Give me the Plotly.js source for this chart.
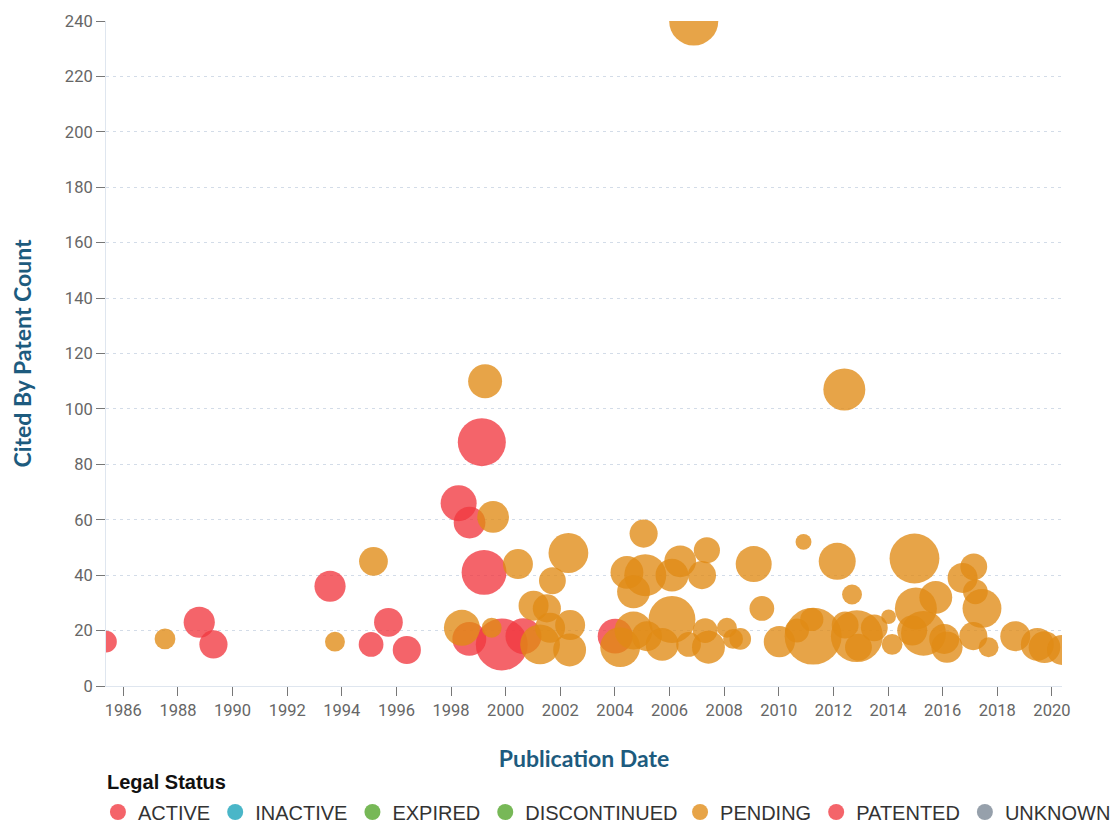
<!DOCTYPE html>
<html><head><meta charset="utf-8">
<script src="https://cdn.plot.ly/plotly-3.0.1.min.js"></script>
<style>html,body{margin:0;padding:0;background:#fff}</style>
</head><body><div id="chart" style="width:1113px;height:823px"></div>
<script>
const statuses = ['ACTIVE','INACTIVE','EXPIRED','DISCONTINUED','PENDING','PATENTED','UNKNOWN'];
const statusColors = ['#f13940','#17a2b8','#51a428','#51a428','#e08b15','#f13940','#798593'];

const activeDates = ['1985-05-14','1988-10-12','1989-04-20','1993-07-27','1995-01-27','1995-09-16','1996-05-19','1998-04-12','1998-09-05','1999-02-16','1999-03-18','1998-09-02','1999-11-10','2000-08-26','2004-01-05'];
const activeCitedBy = [16,23,15,36,15,23,13,66,59,88,41,17,15,18,18];
const activeFamilySize = [13,27,22,27,17,23,22,36,28,64,56,32,75,36,34];

const pendingDates = ['1987-07-12','1993-10-01','1995-02-28','1998-05-26','1999-04-01','1999-07-17','1999-06-28','2000-06-13','2002-04-19','2001-09-17','2001-01-08','2001-07-05','2002-05-12','2001-04-05','2001-08-17','2002-05-05','2004-03-11','2004-09-06','2005-03-04','2005-09-24','2006-02-02','2006-09-12','2007-04-22','2007-06-05','2008-02-07','2008-04-29','2008-08-03','2005-01-19','2004-06-10','2005-02-10','2004-09-06','2006-02-02','2006-05-23','2007-03-10','2007-05-15','2009-01-30','2009-05-19','2010-01-08','2010-11-27','2010-09-01','2011-04-05','2011-03-18','2012-02-21','2012-05-26','2012-09-06','2012-11-10','2012-06-06','2012-12-01','2013-07-01','2014-01-08','2014-02-24','2014-12-20','2015-01-08','2015-10-01','2014-11-20','2015-04-20','2016-02-28','2016-01-22','2016-09-24','2017-02-20','2017-03-14','2017-06-10','2017-02-14','2017-09-06','2018-08-29','2019-06-20','2019-09-24','2020-05-15','2006-11-20'];
const pendingCitedBy = [17,16,45,21,110,61,21,44,48,38,29,28,22,15,21,13,14,20,18,15,24,15,20,14,21,17,17,55,41,40,34,40,45,40,49,44,28,16,52,20,18,24,45,107,33,18,22,14,21,25,15,46,28,32,20,19,14,17,39,43,34,28,18,14,18,15,14,13,240];
const pendingFamilySize = [12,11,23,36,32,28,11,25,44,20,25,22,25,44,25,30,44,40,25,30,61,17,17,30,11,11,13,22,30,49,30,30,28,22,19,36,17,27,7,16,90,15,38,49,11,75,20,20,20,6,12,69,49,30,25,56,27,25,25,20,17,42,22,11,25,30,28,25,67];

const yTickVals = [0,20,40,60,80,100,120,140,160,180,200,220,240];

const seriesByStatus = {
  'ACTIVE': {x: activeDates, y: activeCitedBy, s: activeFamilySize},
  'PENDING': {x: pendingDates, y: pendingCitedBy, s: pendingFamilySize}
};

const allDates = activeDates.concat(pendingDates).slice().sort();
const xMin = allDates[0], xMax = allDates[allDates.length - 1];

const traces = statuses.map((st, i) => {
  const d = seriesByStatus[st];
  const legendId = i < 4 ? 'legend' : 'legend2';
  if (d) {
    return {
      type: 'scatter', mode: 'markers', name: st, legend: legendId,
      x: d.x, y: d.y,
      marker: {size: d.s, sizemode: 'area', sizeref: 1/18, color: statusColors[i], opacity: 0.78, line: {width: 0}},
      cliponaxis: true, hoverinfo: 'x+y'
    };
  }
  return {
    type: 'scatter', mode: 'markers', name: st, legend: legendId, x: [null], y: [null],
    marker: {size: 17, color: statusColors[i], opacity: 0.78, line: {width: 0}}
  };
});

const legendFont = {family: 'Liberation Sans, Arial, sans-serif', size: 20, color: '#333'};

const layout = {
  width: 1113, height: 823,
  margin: {l: 106, r: 51, t: 21, b: 137},
  paper_bgcolor: '#fff', plot_bgcolor: '#fff',
  showlegend: true,
  legend: {
    orientation: 'h', xref: 'container', yref: 'container', x: 0.088, y: 0.0134, xanchor: 'left', yanchor: 'middle',
    font: legendFont, itemsizing: 'trace', bgcolor: 'rgba(0,0,0,0)'
  },
  legend2: {
    orientation: 'h', xref: 'container', yref: 'container', x: 0.611, y: 0.0134, xanchor: 'left', yanchor: 'middle',
    font: legendFont, itemsizing: 'trace', bgcolor: 'rgba(0,0,0,0)'
  },
  annotations: [{
    text: 'Legal Status', xref: 'paper', yref: 'paper', x: -0.001, y: -0.1444,
    xanchor: 'left', yanchor: 'middle', showarrow: false,
    font: {family: 'Liberation Sans, Arial, sans-serif', size: 20, color: '#111', weight: 'bold'}
  }],
  xaxis: {
    type: 'date', range: [xMin, xMax],
    tick0: '1986-01-01', dtick: 'M24', tickformat: '%Y',
    ticks: 'outside', ticklen: 9, tickwidth: 1, tickcolor: '#777',
    showgrid: false, zeroline: false,
    showline: true, linecolor: '#dfe6ef', linewidth: 1,
    tickfont: {family: 'Roboto, sans-serif', size: 16.5, color: '#666'},
    title: {text: 'Publication Date', standoff: 32, font: {family: 'Lato, sans-serif', size: 23, color: '#1d5b7e', weight: 'bold'}}
  },
  yaxis: {
    range: [0, 240], tickvals: yTickVals,
    ticks: 'outside', ticklen: 9, tickwidth: 1, tickcolor: '#777',
    showgrid: true, gridcolor: '#d3dce8', gridwidth: 1, griddash: '3px,4px',
    zeroline: false, showline: true, linecolor: '#dfe6ef', linewidth: 1,
    tickfont: {family: 'Roboto, sans-serif', size: 16.5, color: '#666'},
    title: {text: 'Cited By Patent Count', standoff: 26, font: {family: 'Lato, sans-serif', size: 23, color: '#1d5b7e', weight: 'bold'}}
  }
};

Plotly.newPlot('chart', traces, layout, {displayModeBar: false, responsive: false});
</script>
</body></html>
